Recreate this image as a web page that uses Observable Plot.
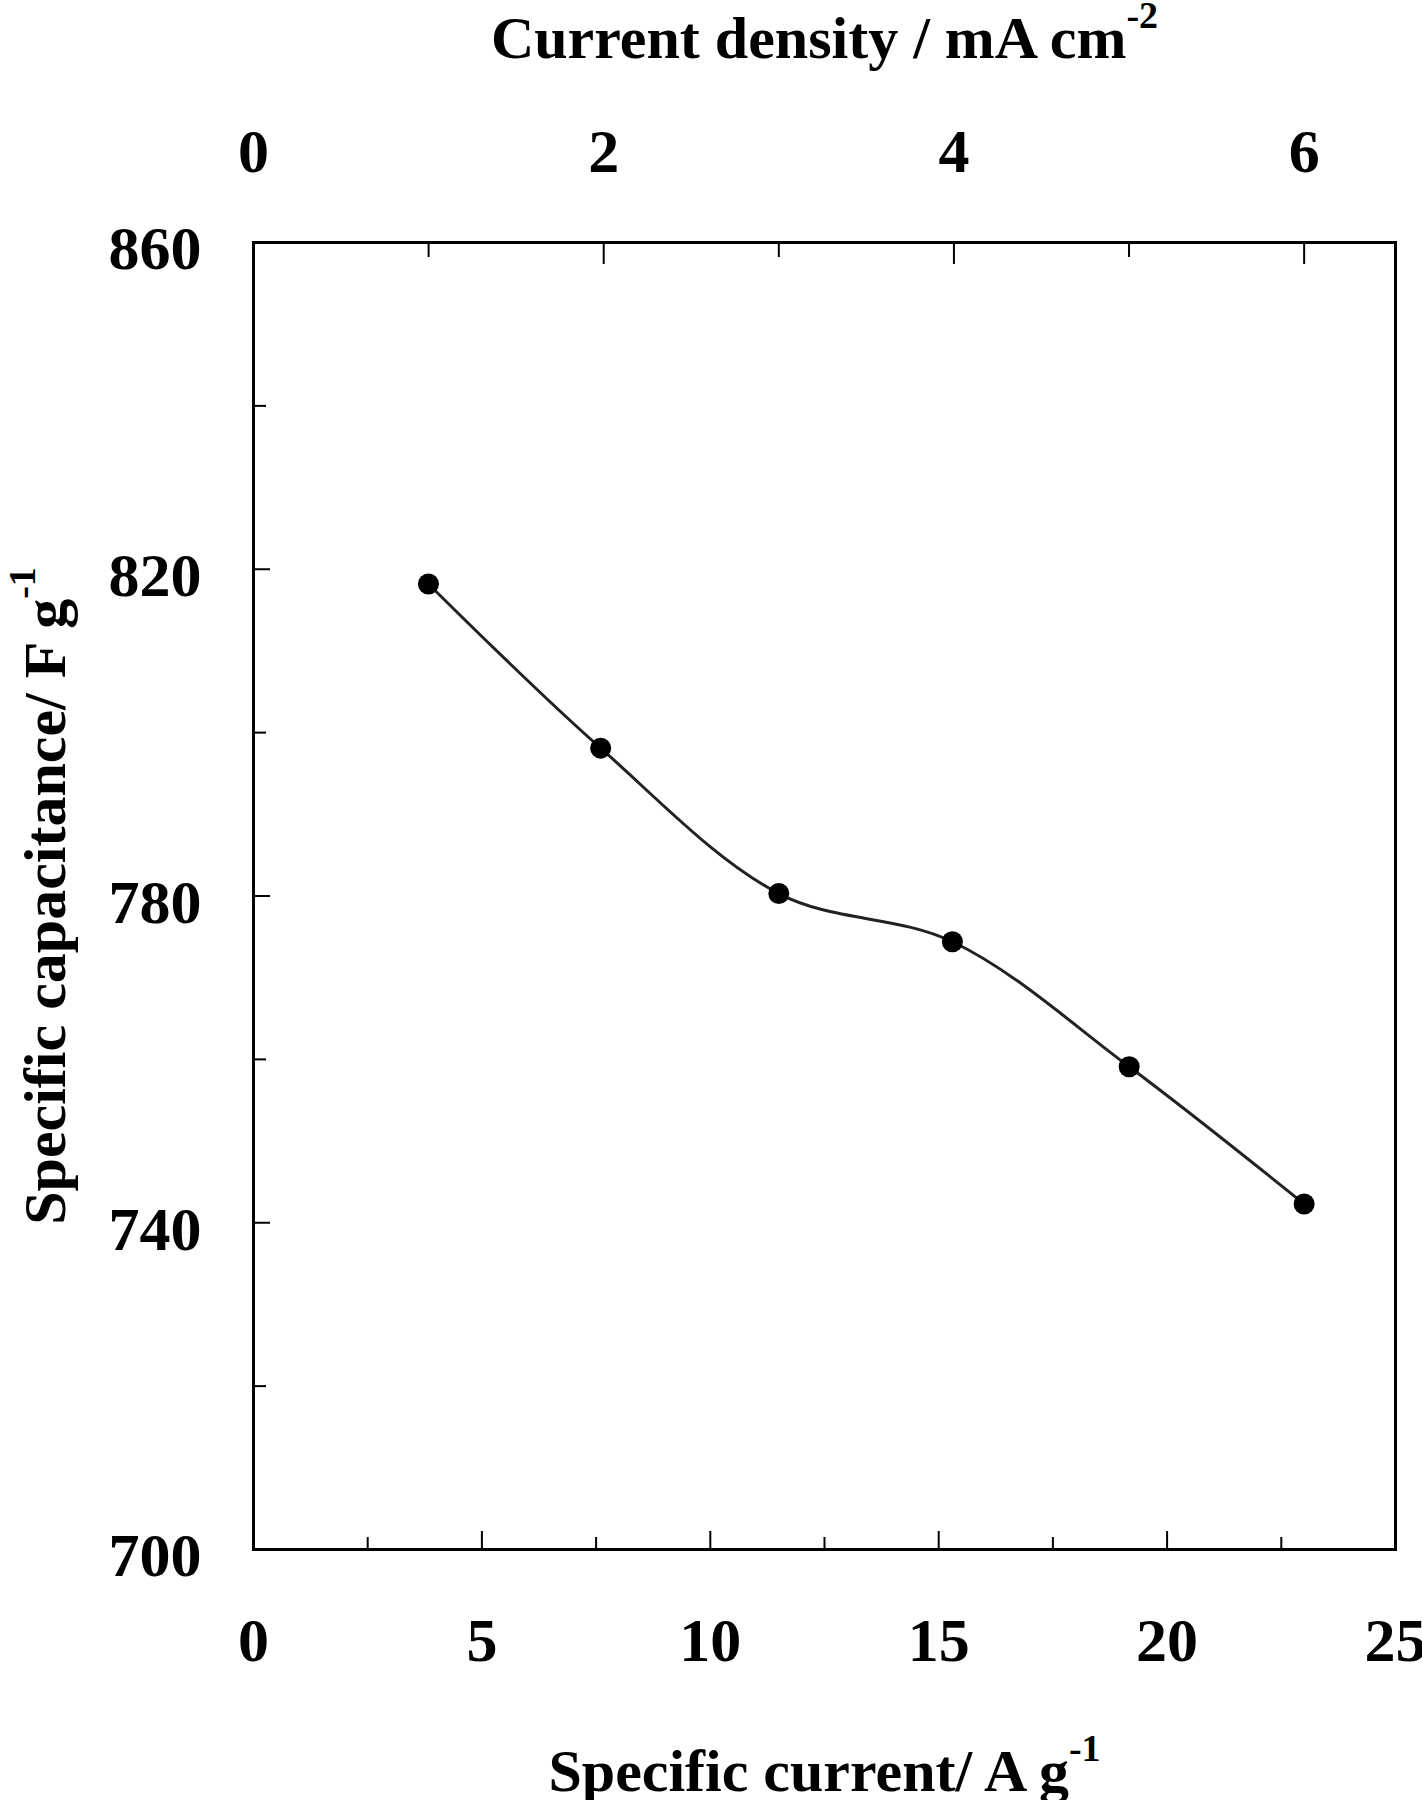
<!DOCTYPE html>
<html><head><meta charset="utf-8">
<script src="https://cdn.jsdelivr.net/npm/d3@7"></script>
<script src="https://cdn.jsdelivr.net/npm/@observablehq/plot@0.6"></script>
<style>body{margin:0;background:#fff} svg{display:block}</style>
</head><body><div id="chart"></div>
<script>
// data
const currentDensity = [1, 2, 3, 4, 5, 6];                       // mA cm-2
const specificCurrent = [3.83, 7.6, 11.5, 15.3, 19.17, 23.0];     // A g-1
const specificCapacitance = [818.2, 798.1, 780.3, 774.4, 759.1, 742.3]; // F g-1

// ticks
const bottomTickLabels = [0, 5, 10, 15, 20, 25];
const bottomMajorTicks = [5, 10, 15, 20];
const bottomMinorTicks = [2.5, 7.5, 12.5, 17.5, 22.5];
const topTickLabels = [0, 2, 4, 6];
const topMajorTicks = [2, 4, 6];
const topMinorTicks = [1, 3, 5];
const yTickLabels = [700, 740, 780, 820, 860];
const yMajorTicks = [740, 780, 820];
const yMinorTicks = [720, 760, 800, 840];

// titles
const xTitle = "Specific current/ A g", xTitleSup = "-1";
const topTitle = "Current density / mA cm", topTitleSup = "-2";
const yTitle = "Specific capacitance/ F g", yTitleSup = "-1";

const densityToCurrent = specificCurrent[5] / currentDensity[5]; // A g-1 per mA cm-2

const rows = specificCurrent.map((x, i) => ({x, y: specificCapacitance[i]}));

const W = 1422, H = 1800;
const mTop = 242, mRight = 27, mBottom = 251, mLeft = 253;
const innerH = H - mTop - mBottom, innerW = W - mLeft - mRight;
const font = "'Liberation Serif', 'Times New Roman', serif";

const chart = Plot.plot({
  width: W, height: H,
  marginTop: mTop, marginRight: mRight, marginBottom: mBottom, marginLeft: mLeft,
  style: {fontFamily: font, background: "white", color: "black"},
  x: {domain: [0, 25], axis: null},
  y: {domain: [700, 860], axis: null},
  marks: [
    // inward ticks
    Plot.ruleX(bottomMajorTicks, {x: d => d, insetTop: innerH - 18, stroke: "black", strokeWidth: 2}),
    Plot.ruleX(bottomMinorTicks, {x: d => d, insetTop: innerH - 12, stroke: "black", strokeWidth: 2}),
    Plot.ruleX(topMajorTicks, {x: d => d * densityToCurrent, insetBottom: innerH - 22, stroke: "black", strokeWidth: 2}),
    Plot.ruleX(topMinorTicks, {x: d => d * densityToCurrent, insetBottom: innerH - 15, stroke: "black", strokeWidth: 2}),
    Plot.ruleY(yMajorTicks, {y: d => d, insetRight: innerW - 17, stroke: "black", strokeWidth: 2}),
    Plot.ruleY(yMinorTicks, {y: d => d, insetRight: innerW - 13, stroke: "black", strokeWidth: 2}),
    Plot.frame({stroke: "black", strokeWidth: 3}),
    // tick labels
    Plot.text(bottomTickLabels, {x: d => d, frameAnchor: "bottom", dy: 111, text: d => `${d}`, fontSize: 62, fontWeight: "bold", fill: "black"}),
    Plot.text(topTickLabels, {x: d => d * densityToCurrent, frameAnchor: "top", dy: -115, text: d => `${d}`, fontSize: 62, fontWeight: "bold", fill: "black"}),
    Plot.text(yTickLabels, {y: d => d, frameAnchor: "left", dx: -52, dy: 7, textAnchor: "end", text: d => `${d}`, fontSize: 62, fontWeight: "bold", fill: "black"}),
    // axis titles
    Plot.text([xTitle], {frameAnchor: "bottom", dy: 241, textAnchor: "middle", text: d => d, fontSize: 60, fontWeight: "bold", fill: "black"}),
    Plot.text([topTitle], {frameAnchor: "top", dy: -227, textAnchor: "middle", text: d => d, fontSize: 60, fontWeight: "bold", fill: "black"}),
    Plot.text([yTitle], {frameAnchor: "left", dx: -208, rotate: -90, textAnchor: "middle", text: d => d, fontSize: 60, fontWeight: "bold", fill: "black"}),
    // data
    Plot.line(rows, {x: "x", y: "y", curve: "catmull-rom", stroke: "#222", strokeWidth: 3}),
    Plot.dot(rows, {x: "x", y: "y", r: 10.5, fill: "black", stroke: "none"})
  ]
});

document.getElementById("chart").appendChild(chart);

// superscripts appended as tspans to the title texts
const sup = (title, s) => {
  d3.select(chart).selectAll("text")
    .filter(function() { return this.textContent === title; })
    .append("tspan").attr("dy", "-30").attr("font-size", 38).text(s);
};
sup(xTitle, xTitleSup);
sup(topTitle, topTitleSup);
sup(yTitle, yTitleSup);
</script>
</body></html>
